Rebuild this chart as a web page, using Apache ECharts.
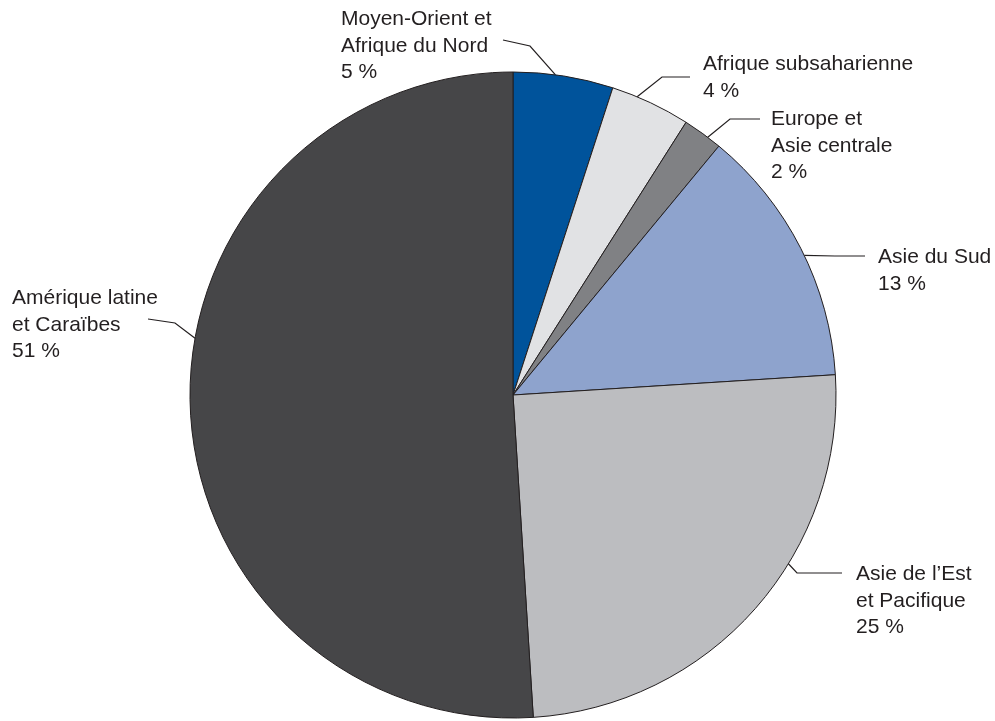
<!DOCTYPE html>
<html>
<head>
<meta charset="utf-8">
<script src="https://cdn.jsdelivr.net/npm/echarts@6/dist/echarts.min.js"></script>
<style>
  html, body { margin: 0; padding: 0; background: #ffffff; }
  #chart { width: 995px; height: 721px; }
</style>
</head>
<body>
<div id="chart"></div>
<script>
// Regional shares (percent), clockwise from 12 o'clock
const regions = [
  'Moyen-Orient et\nAfrique du Nord',
  'Afrique subsaharienne',
  'Europe et\nAsie centrale',
  'Asie du Sud',
  'Asie de l\u2019Est\net Pacifique',
  'Amérique latine\net Caraïbes'
];
const shares = [5, 4, 2, 13, 25, 51];
const sliceColors = ['#00539b', '#e1e2e4', '#808184', '#8ea3cd', '#bcbdc0', '#464648'];

// Pie geometry (pixels)
const CX = 513, CY = 395, R = 323;

// Callout layout: where each label block sits, where its leader touches the rim
// (fraction along the slice's arc), and the leader's elbow/end points.
const labelBox = [
  { x: 341, y: 6 },
  { x: 703, y: 51 },
  { x: 771, y: 106 },
  { x: 878, y: 244 },
  { x: 856, y: 561 },
  { x: 12, y: 285 }
];
const rimFrac = [0.42, 0.32, 0.65, 0.53, 0.39, 0.565];
const elbows = [
  [[530, 46], [503, 40]],
  [[662, 77], [690, 77]],
  [[730, 119], [760, 119]],
  [[835, 256], [865, 256]],
  [[797, 573], [842, 573]],
  [[175, 323], [148, 319]]
];

const total = shares.reduce((a, b) => a + b, 0);
function rimPoint(i) {
  let before = 0;
  for (let k = 0; k < i; k++) before += shares[k];
  const deg = (before + shares[i] * rimFrac[i]) / total * 360;
  const rad = deg * Math.PI / 180;
  return [CX + R * Math.sin(rad), CY - R * Math.cos(rad)];
}

const chart = echarts.init(document.getElementById('chart'), null, { renderer: 'canvas' });
chart.setOption({
  animation: false,
  backgroundColor: '#ffffff',
  series: [{
    type: 'pie',
    center: [CX, CY],
    radius: R,
    startAngle: 90,
    clockwise: true,
    avoidLabelOverlap: false,
    data: regions.map((name, i) => ({
      name: name,
      value: shares[i],
      itemStyle: { color: sliceColors[i] }
    })),
    itemStyle: { borderColor: '#231f20', borderWidth: 1 },
    label: {
      show: true,
      position: 'outside',
      formatter: '{b}\n{c} %',
      fontFamily: 'Liberation Sans, Arial, Helvetica, sans-serif',
      fontSize: 21,
      lineHeight: 26.5,
      color: '#231f20'
    },
    labelLine: {
      show: true,
      lineStyle: { color: '#231f20', width: 1.2 }
    },
    labelLayout: function (params) {
      const i = params.dataIndex;
      return {
        x: labelBox[i].x,
        y: labelBox[i].y,
        align: 'left',
        verticalAlign: 'top',
        labelLinePoints: [rimPoint(i), elbows[i][0], elbows[i][1]]
      };
    },
    emphasis: { disabled: true }
  }]
});
</script>
</body>
</html>
